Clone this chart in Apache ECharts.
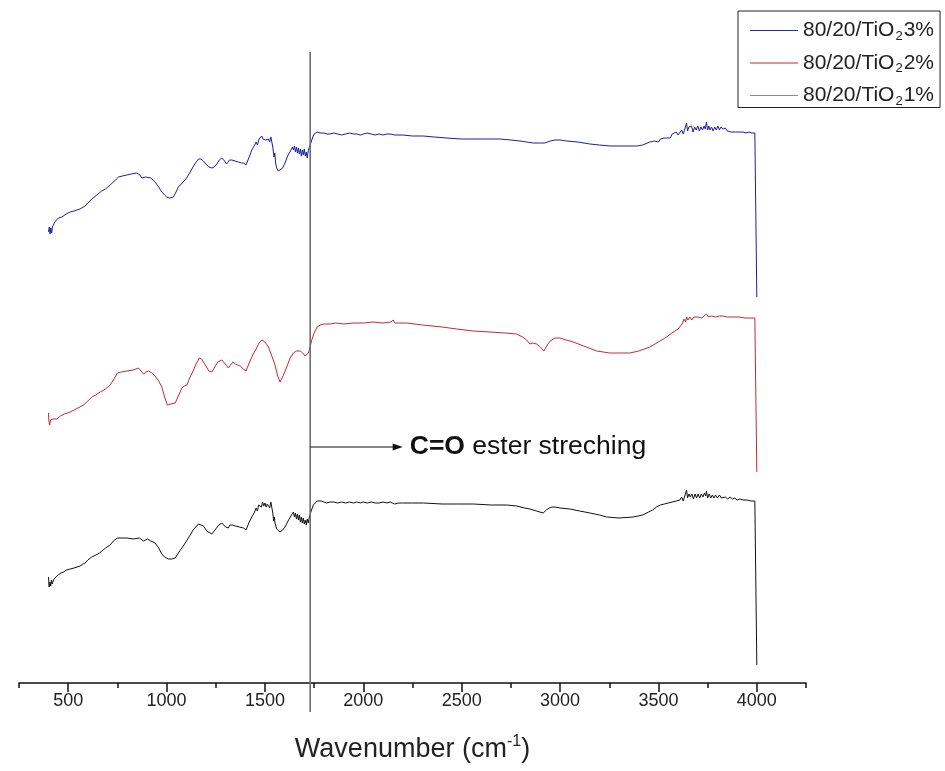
<!DOCTYPE html>
<html>
<head>
<meta charset="utf-8">
<script src="https://cdn.jsdelivr.net/npm/echarts@6/dist/echarts.min.js"></script>
<style>
  html, body { margin: 0; padding: 0; background: #fff; }
  #chart { width: 945px; height: 771px; }
</style>
</head>
<body>
<div id="chart"></div>
<script>
// FTIR spectra of 80/20 blends with TiO2 loading, stacked (transmittance, a.u.)
const seriesNames = ['80/20/TiO₂3%', '80/20/TiO₂2%', '80/20/TiO₂1%'];

const majorTicks = [500, 1000, 1500, 2000, 2500, 3000, 3500, 4000];
const minorTicks = [250, 750, 1250, 1750, 2250, 2750, 3250, 3750, 4250];

// [wavenumber (cm-1), stacked transmittance (a.u.)]
const tio2_3 = [
  [400,451],[404,456],[408,449],[412,455],[416,450],[420,456],[425,458],[432,461],[440,463],[450,465],[468,466],[490,469],[510,471],[530,472],[544,473],[560,474],[586,477],[600,480],[620,484],[646,488],[670,492],[690,494],[713,498],[730,501],[745,504],[756,506],[775,507],[798,508],[820,509],[849,510],[865,508],[875,505],[883,504],[893,506],[903,507],[920,505],[942,501],[960,496],[976,491],[990,488],[1001,486],[1015,485],[1025,485],[1035,486],[1048,491],[1060,496],[1075,499],[1094,503],[1108,507],[1120,511],[1140,518],[1162,524],[1175,524],[1187,522],[1200,519],[1215,516],[1230,515],[1242,516],[1255,519],[1268,523],[1281,525],[1295,522],[1305,519],[1314,519],[1320,523],[1326,521],[1332,523],[1340,521],[1348,522],[1356,520],[1364,521],[1372,519],[1380,520],[1391,520],[1398,518],[1404,518],[1418,525],[1433,533],[1445,537],[1455,541],[1462,538],[1470,544],[1478,543],[1484,547],[1490,544],[1496,546],[1503,543],[1510,545],[1518,544],[1524,541],[1530,546],[1535,546],[1540,536],[1546,526],[1550,530],[1555,519],[1560,515],[1568,512],[1577,511],[1590,515],[1602,520],[1615,527],[1630,532],[1640,536],[1645,533],[1650,537],[1655,531],[1660,536],[1665,530],[1670,535],[1675,529],[1680,534],[1685,527],[1690,533],[1695,528],[1700,534],[1705,527],[1710,531],[1715,525],[1720,532],[1726,536],[1735,541],[1743,546],[1750,549],[1758,548],[1765,551],[1772,549],[1780,550],[1790,549],[1800,550],[1815,549],[1831,549],[1850,550],[1870,549],[1890,548],[1910,549],[1930,550],[1950,549],[1967,549],[1985,548],[2000,549],[2020,550],[2040,549],[2060,548],[2080,549],[2100,548],[2120,549],[2136,549],[2160,548],[2200,548],[2250,547],[2305,547],[2360,546],[2424,545],[2500,544],[2600,544],[2694,544],[2750,543],[2796,542],[2830,541],[2864,540],[2900,540],[2923,540],[2950,542],[2974,543],[3000,543],[3033,542],[3090,541],[3152,539],[3200,538],[3253,537],[3320,537],[3389,537],[3420,538],[3456,541],[3480,542],[3500,541],[3510,544],[3520,542],[3530,545],[3541,545],[3550,547],[3560,545],[3570,549],[3580,547],[3590,551],[3600,548],[3609,550],[3618,553],[3626,549],[3634,554],[3643,560],[3648,552],[3655,556],[3660,554],[3668,557],[3676,551],[3684,556],[3692,553],[3700,557],[3708,552],[3716,556],[3724,553],[3732,557],[3738,554],[3744,561],[3750,553],[3756,557],[3762,553],[3770,556],[3778,552],[3786,556],[3794,553],[3802,557],[3810,553],[3818,556],[3829,554],[3840,555],[3850,552],[3860,554],[3870,551],[3880,553],[3890,551],[3900,552],[3914,551],[3930,551],[3945,550],[3960,551],[3975,550],[3990,550],[4000,549],[4000,386]
];

const tio2_2 = [
  [400,270],[402,262],[406,258],[410,263],[416,261],[422,264],[430,262],[443,264],[460,267],[480,269],[510,271],[540,274],[578,278],[600,282],[620,286],[640,288],[663,291],[690,294],[713,298],[730,303],[750,310],[770,311],[798,312],[830,313],[857,315],[870,312],[883,309],[895,311],[908,312],[925,310],[942,307],[960,302],[976,296],[990,286],[1004,278],[1020,279],[1030,279],[1044,280],[1060,287],[1078,295],[1090,297],[1103,298],[1120,306],[1137,313],[1152,320],[1167,325],[1178,324],[1187,322],[1200,317],[1215,312],[1230,311],[1245,316],[1260,321],[1281,323],[1298,319],[1314,315],[1325,318],[1337,321],[1350,319],[1362,318],[1374,317],[1390,314],[1404,312],[1420,320],[1438,328],[1455,334],[1470,340],[1484,343],[1500,341],[1518,336],[1535,327],[1551,318],[1565,307],[1577,301],[1592,307],[1611,316],[1628,325],[1645,330],[1660,332],[1679,332],[1692,330],[1704,327],[1714,329],[1721,330],[1728,335],[1738,343],[1750,350],[1765,356],[1780,358],[1800,359],[1830,359],[1860,360],[1900,359],[1950,360],[2000,360],[2050,361],[2100,360],[2140,361],[2152,363],[2160,360],[2180,360],[2221,360],[2300,358],[2400,356],[2475,354],[2560,352],[2644,351],[2720,350],[2779,349],[2810,346],[2830,343],[2847,339],[2860,340],[2881,339],[2900,336],[2918,332],[2935,338],[2950,342],[2974,345],[3000,345],[3030,343],[3067,341],[3120,337],[3186,332],[3253,330],[3300,330],[3355,330],[3400,332],[3456,336],[3500,341],[3541,346],[3575,351],[3600,354],[3609,356],[3620,359],[3630,364],[3638,361],[3643,366],[3650,363],[3660,366],[3670,363],[3680,366],[3690,364],[3700,366],[3710,368],[3720,365],[3730,367],[3744,369],[3755,366],[3770,367],[3790,366],[3810,367],[3829,367],[3850,366],[3880,366],[3910,366],[3940,365],[3970,365],[3990,365],[4000,365],[4000,211]
];

const tio2_1 = [
  [400,106],[403,96],[407,101],[411,97],[415,103],[419,99],[425,103],[431,101],[437,106],[443,104],[449,108],[456,106],[463,110],[470,108],[476,111],[484,110],[492,113],[500,112],[510,114],[520,113],[530,115],[545,116],[561,117],[575,119],[586,120],[600,123],[620,126],[640,128],[660,130],[671,132],[690,135],[713,138],[730,142],[750,145],[770,145],[798,145],[830,144],[862,145],[872,143],[883,142],[893,144],[903,144],[920,142],[942,140],[960,135],[976,129],[990,126],[1010,124],[1025,124],[1044,125],[1060,130],[1078,135],[1095,140],[1111,145],[1135,153],[1162,159],[1175,158],[1187,157],[1205,152],[1230,149],[1250,154],[1265,158],[1281,160],[1300,156],[1314,155],[1322,158],[1328,156],[1334,158],[1340,156],[1350,157],[1360,155],[1370,156],[1380,154],[1391,155],[1404,153],[1418,160],[1433,166],[1445,170],[1455,175],[1462,172],[1468,178],[1475,180],[1482,176],[1488,181],[1494,177],[1500,180],[1506,176],[1512,179],[1518,178],[1524,175],[1530,181],[1535,180],[1540,170],[1544,162],[1548,166],[1551,160],[1560,154],[1568,152],[1577,151],[1590,153],[1602,156],[1620,163],[1635,168],[1645,171],[1650,166],[1655,170],[1660,164],[1665,169],[1670,163],[1675,168],[1680,161],[1685,166],[1690,160],[1695,165],[1700,159],[1705,163],[1710,158],[1715,164],[1720,160],[1726,166],[1735,172],[1746,178],[1755,180],[1765,182],[1775,180],[1785,182],[1800,181],[1815,180],[1831,181],[1850,181],[1870,180],[1890,181],[1910,180],[1930,181],[1950,180],[1967,181],[1985,180],[2000,181],[2020,180],[2040,181],[2060,180],[2080,180],[2100,181],[2120,180],[2136,181],[2160,179],[2180,180],[2200,180],[2250,180],[2305,180],[2400,179],[2480,179],[2559,179],[2650,178],[2729,178],[2780,177],[2820,175],[2847,174],[2880,172],[2914,170],[2930,173],[2945,175],[2960,176],[2974,176],[3000,175],[3050,174],[3100,172],[3152,170],[3200,168],[3237,166],[3300,165],[3372,166],[3420,168],[3450,171],[3470,173],[3490,176],[3500,175],[3510,178],[3520,176],[3530,179],[3540,177],[3550,180],[3560,178],[3570,181],[3580,179],[3590,182],[3600,180],[3609,183],[3618,186],[3626,182],[3634,187],[3643,193],[3648,185],[3655,189],[3662,186],[3670,189],[3678,184],[3686,189],[3694,185],[3702,189],[3710,185],[3718,189],[3726,186],[3734,190],[3740,187],[3744,192],[3750,185],[3758,189],[3766,185],[3774,188],[3782,185],[3790,188],[3800,185],[3810,188],[3820,185],[3829,187],[3840,186],[3852,184],[3864,186],[3876,184],[3888,185],[3900,183],[3914,184],[3930,183],[3950,183],[3970,182],[3990,182],[4000,182],[4000,18]
];

// C=O ester band marker
const esterBand = 1730;
const esterText = ['C=O', 'ester streching'];

(function () {
  const FONT = "'Liberation Sans', Arial, Helvetica, sans-serif";
  const colors = ['#1c1ca8', '#c42a2e', '#111111'];
  const legendLineColors = ['#2a2aa8', '#c42a2e', '#8c8c8c'];

  const chart = echarts.init(document.getElementById('chart'), null, { renderer: 'canvas' });

  const subName = name => {
    const parts = name.split('₂');
    return '{t|' + parts[0] + '}{s|2}{t|' + parts[1] + '}';
  };

  const axisRange = { min: minorTicks[0], max: minorTicks[minorTicks.length - 1] };

  chart.setOption({
    animation: false,
    backgroundColor: '#ffffff',
    textStyle: { fontFamily: FONT },
    grid: { left: 19, right: 139, top: 53, bottom: 88, containLabel: false, outerBoundsMode: 'none' },
    legend: {
      orient: 'vertical',
      left: 738,
      top: 11,
      padding: [9, 6, 0, 12],
      itemGap: 10,
      itemWidth: 48,
      itemHeight: 1,
      icon: 'rect',
      borderColor: '#222',
      borderWidth: 1,
      backgroundColor: '#fff',
      selectedMode: false,
      data: seriesNames.map((n, i) => ({
        name: n,
        itemStyle: { color: legendLineColors[i] }
      })),
      formatter: subName,
      textStyle: {
        color: '#222',
        rich: {
          t: { fontSize: 21, fontFamily: FONT, color: '#222', lineHeight: 24 },
          s: { fontSize: 13, fontFamily: FONT, color: '#222', lineHeight: 24, verticalAlign: 'bottom', padding: [0, 1, 0, 1] }
        }
      }
    },
    xAxis: [
      {
        type: 'value',
        min: axisRange.min,
        max: axisRange.max,
        position: 'bottom',
        name: '{t|Wavenumber (cm}{u|-1}{t|)}',
        nameLocation: 'middle',
        nameGap: 51,
        nameTextStyle: {
          rich: {
            t: { fontSize: 27, fontFamily: FONT, color: '#222', lineHeight: 31 },
            u: { fontSize: 16, fontFamily: FONT, color: '#222', lineHeight: 31, verticalAlign: 'top' }
          }
        },
        splitLine: { show: false },
        axisLine: { show: true, lineStyle: { color: '#111', width: 1.6 } },
        axisTick: { show: true, inside: false, length: 9, lineStyle: { color: '#111', width: 1.5 }, customValues: majorTicks },
        axisLabel: {
          show: true, margin: 9, fontSize: 18, color: '#222', fontFamily: FONT,
          customValues: majorTicks,
          formatter: v => String(v)
        }
      },
      {
        type: 'value',
        min: axisRange.min,
        max: axisRange.max,
        position: 'bottom',
        splitLine: { show: false },
        axisLine: { show: false },
        axisTick: { show: true, inside: false, length: 5, lineStyle: { color: '#111', width: 1.5 }, customValues: minorTicks },
        axisLabel: { show: false, customValues: minorTicks }
      }
    ],
    yAxis: { type: 'value', min: 0, max: 630, show: false, splitLine: { show: false } },
    series: [tio2_3, tio2_2, tio2_1].map((d, i) => ({
      name: seriesNames[i],
      type: 'line',
      data: d,
      symbol: 'none',
      showSymbol: false,
      clip: false,
      lineStyle: { color: colors[i], width: 1 },
      itemStyle: { color: colors[i] },
      z: 3 - i
    }))
  });

  // Band marker line, arrow and label placed through the axis scales
  const toPx = (x, y) => chart.convertToPixel({ xAxisIndex: 0, yAxisIndex: 0 }, [x, y]);
  const lineTop = toPx(esterBand, 631);
  const lineBottom = toPx(esterBand, -29);
  const arrowStart = toPx(esterBand, 236);
  const arrowEnd = toPx(2200, 236);
  const textPos = toPx(2236, 236);

  chart.setOption({
    graphic: [
      {
        type: 'line', z: 10,
        shape: { x1: lineTop[0], y1: lineTop[1], x2: lineBottom[0], y2: lineBottom[1] },
        style: { stroke: '#6e6e6e', lineWidth: 1.6 }
      },
      {
        type: 'line', z: 10,
        shape: { x1: arrowStart[0], y1: arrowStart[1], x2: arrowEnd[0] - 8, y2: arrowEnd[1] },
        style: { stroke: '#111', lineWidth: 1 }
      },
      {
        type: 'polygon', z: 10,
        shape: { points: [[arrowEnd[0], arrowEnd[1]], [arrowEnd[0] - 10, arrowEnd[1] - 3.5], [arrowEnd[0] - 10, arrowEnd[1] + 3.5]] },
        style: { fill: '#111' }
      },
      {
        type: 'text', z: 10,
        x: textPos[0], y: textPos[1],
        style: {
          text: '{b|' + esterText[0] + '}{n| ' + esterText[1] + '}',
          verticalAlign: 'middle',
          align: 'left',
          rich: {
            b: { fontSize: 26.5, fontWeight: 'bold', fontFamily: FONT, fill: '#111' },
            n: { fontSize: 26.5, fontFamily: FONT, fill: '#111' }
          }
        }
      }
    ]
  });
})();
</script>
</body>
</html>
